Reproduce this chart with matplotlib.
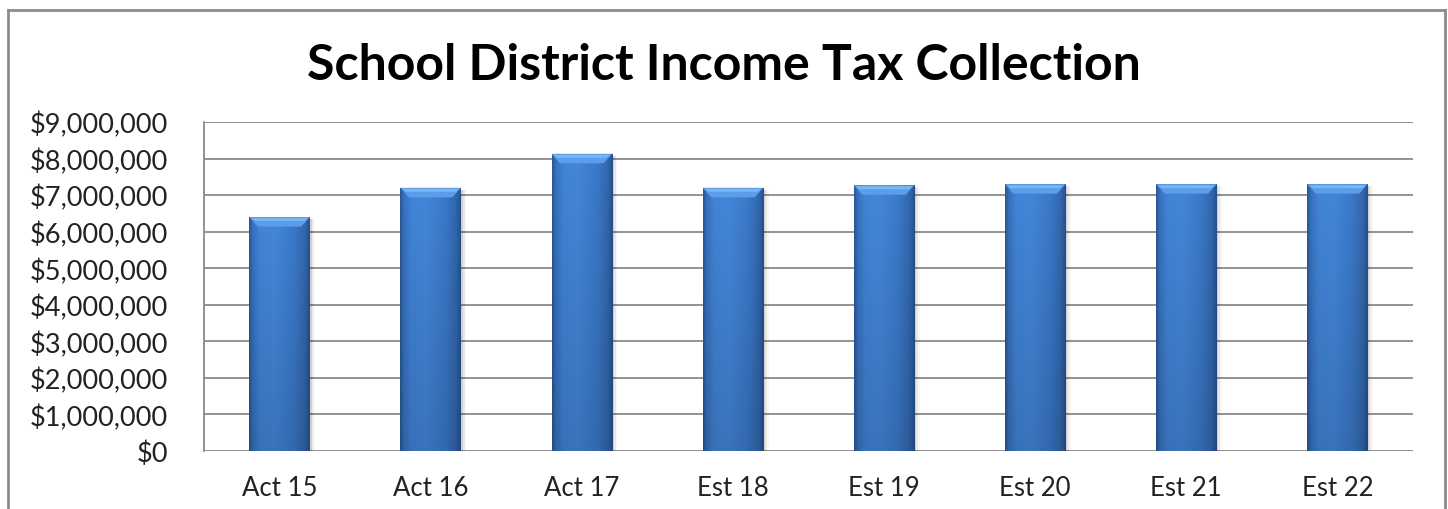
import numpy as np
import matplotlib.pyplot as plt
from matplotlib.patches import Polygon, Rectangle
from matplotlib.lines import Line2D
from matplotlib.ticker import FuncFormatter
from matplotlib.colors import to_rgb

# Datos
categorias = ["Act 15", "Act 16", "Act 17", "Est 18", "Est 19", "Est 20", "Est 21", "Est 22"]
recaudacion = [6400000, 7200000, 8130000, 7200000, 7270000, 7300000, 7300000, 7300000]
titulo = "School District Income Tax Collection"

plt.rcParams["font.family"] = ["Lato", "DejaVu Sans"]

W, H = 1448, 510
fig = plt.figure(figsize=(W / 100, H / 100), dpi=100)
ax = fig.add_axes([204 / W, 1 - 452 / H, (1413 - 204) / W, (452 - 123) / H])

x = np.arange(len(categorias))
ancho = 0.4
barras = ax.bar(x, recaudacion, width=ancho, color="#3c78c4", zorder=2)

# Degradado horizontal tipo Excel (bordes oscuros, centro claro)
pos = np.array([0.0, 0.06, 0.18, 0.42, 0.75, 0.92, 1.0])
cols = np.array([to_rgb(c) for c in ["#2a5592", "#3671bd", "#4183d6", "#4387da", "#3b78c8", "#3167ad", "#27508a"]])
t = np.linspace(0, 1, 200)
perfil = np.stack([np.interp(t, pos, cols[:, i]) for i in range(3)], axis=1)
vert = np.linspace(1.0, 0.86, 120)[:, None, None]
img = np.clip(perfil[None, :, :] * vert, 0, 1)

bh = 0.26e6  # alto del bisel superior
for xi, v, b in zip(x, recaudacion, barras):
    x0, x1 = xi - ancho / 2, xi + ancho / 2
    # sombra suave a la derecha
    for k, a in enumerate([0.10, 0.06, 0.03]):
        ax.add_patch(Rectangle((x1, 0), 0.012 * (k + 1), v - 0.05e6, color="black",
                               alpha=a, lw=0, zorder=1.5))
    im = ax.imshow(img, extent=(x0, x1, 0, v), aspect="auto", zorder=2.1,
                   interpolation="bilinear")
    im.set_clip_path(b)
    bw = ancho * 0.14
    ax.add_patch(Polygon([(x0, v), (x1, v), (x1 - bw, v - bh), (x0 + bw, v - bh)],
                         closed=True, facecolor="#5b9de8", edgecolor="none", zorder=2.2))
    ax.add_patch(Polygon([(x0 + 0.01, v - 0.03e6), (x1 - 0.01, v - 0.03e6),
                          (x1 - 0.04, v - 0.11e6), (x0 + 0.04, v - 0.11e6)],
                         closed=True, facecolor="#79b6f4", edgecolor="none", zorder=2.3))

ax.set_xlim(-0.5, len(categorias) - 0.5)
ax.set_ylim(0, 9000000)
ax.set_yticks(np.arange(0, 9000001, 1000000))
ax.yaxis.set_major_formatter(FuncFormatter(lambda v, p: "${:,.0f}".format(v)))
ax.set_xticks(x)
ax.set_xticklabels(categorias)
ax.tick_params(axis="y", length=0, pad=26, labelsize=19.5, labelcolor="#222222")
ax.tick_params(axis="x", length=0, pad=17, labelsize=18.5, labelcolor="#222222")

ax.grid(axis="y", color="#8a8a8a", linewidth=1.3, zorder=0)
ax.set_axisbelow(True)
for s in ["top", "right", "bottom"]:
    ax.spines[s].set_visible(False)
ax.spines["left"].set_color("#8a8a8a")
ax.spines["left"].set_linewidth(1.3)

fig.text(0.5, 1 - 66 / H, titulo, ha="center", va="center", fontsize=36,
         fontweight="bold", color="black")

# Borde del area del grafico
gris = "#8c8c8c"
izq, der, arr = 8 / W, 1445 / W, 1 - 11 / H
fig.add_artist(Line2D([izq, izq], [0, arr], color=gris, lw=2, transform=fig.transFigure))
fig.add_artist(Line2D([izq, der], [arr, arr], color=gris, lw=2, transform=fig.transFigure))
fig.add_artist(Line2D([der, der], [0, arr], color=gris, lw=2, transform=fig.transFigure))

fig.savefig("out.png", dpi=100)
